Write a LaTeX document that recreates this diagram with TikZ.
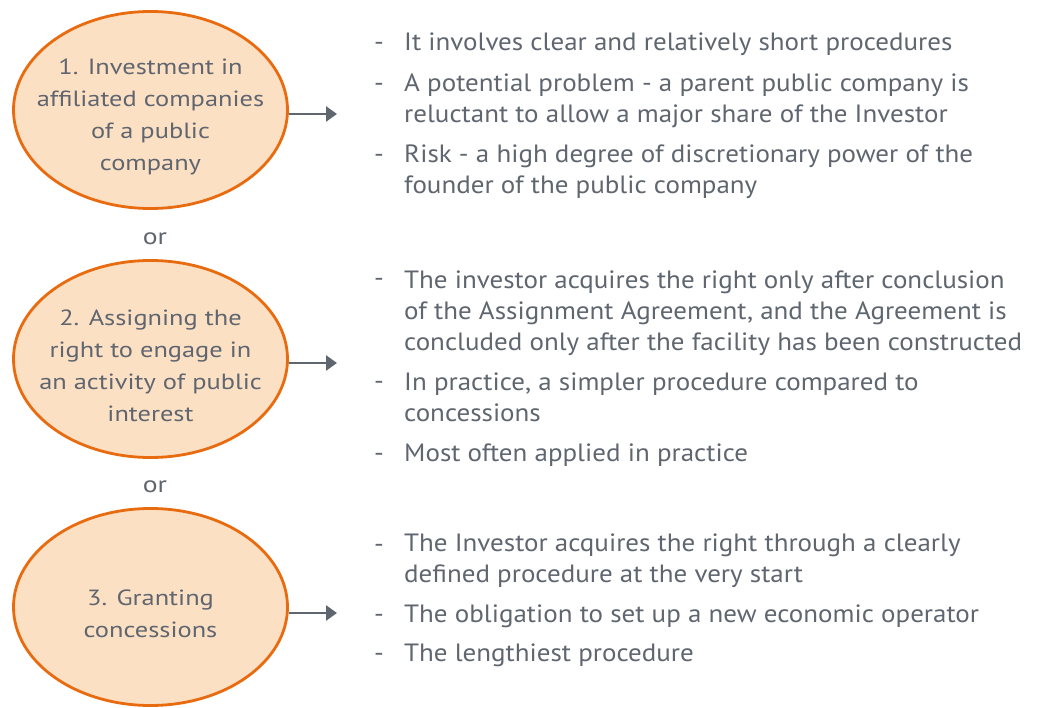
\documentclass[tikz,border=0pt]{standalone}
\usepackage{fontspec}
\setmainfont{PT Sans}
\newfontfamily\bulletfont[FakeStretch=1.08]{PT Sans}
\newfontfamily\ovalfont[FakeStretch=1.2]{PT Sans}
\usetikzlibrary{arrows.meta,shapes.geometric}
\definecolor{ovalfill}{HTML}{FCE0C4}
\definecolor{ovaldraw}{HTML}{E96B10}
\definecolor{txtgray}{HTML}{5F666F}
\newcommand\ovstrut{\rule{0pt}{29pt}}
\tikzset{
  oval/.style={ellipse, draw=ovaldraw, fill=ovalfill, line width=2.8pt,
    minimum width=274pt, minimum height=197pt, inner xsep=-80pt, inner ysep=-60pt, align=center,
    text=txtgray, font=\ovalfont\fontsize{22}{32}\selectfont},
  arr/.style={draw=txtgray, line width=2.4pt, -{Triangle[length=11pt,width=15pt]}},
  dashmark/.style={anchor=base west, inner sep=0pt, text=txtgray, font=\bulletfont\fontsize{25}{31}\selectfont},
  item/.style={anchor=base west, inner sep=0pt, align=left, text=txtgray, font=\bulletfont\fontsize{25}{31}\selectfont},
  ortext/.style={anchor=base, inner sep=0pt, text=txtgray, font=\ovalfont\fontsize{23}{26}\selectfont}
}
\begin{document}
\begin{tikzpicture}[x=1pt,y=-1pt]
\useasboundingbox[fill=white] (0,0) rectangle (1047,708);
% ovals
\node[oval] (e1) at (150.5,110) {\ovstrut 1. Investment in\\affiliated companies\\of a public\\company};
\node[oval] (e2) at (150.5,359) {\ovstrut 2. Assigning the\\right to engage in\\an activity of public\\interest};
\node[oval] (e3) at (150.5,607) {\ovstrut 3. Granting\\concessions};
\node[ortext] (or1) at (155,245) {or};
\node[ortext] (or2) at (155,492) {or};
% arrows
\coordinate (t1) at (337,114);
\coordinate (t2) at (337,363);
\coordinate (t3) at (337,613);
\draw[arr] (e1.east |- t1) -- (t1);
\draw[arr] (e2.east |- t2) -- (t2);
\draw[arr] (e3.east |- t3) -- (t3);
% group 1 (anchors at baseline of last line)
\node[dashmark] (d11) at (374,51) {-};
\node[item] (i11) at (404,51) {It involves clear and relatively short procedures};
\node[dashmark] (d12) at (374,92) {-};
\node[item] (i12) at (404,123) {A potential problem - a parent public company is\\reluctant to allow a major share of the Investor};
\node[dashmark] (d13) at (374,163) {-};
\node[item] (i13) at (404,194) {Risk - a high degree of discretionary power of the\\founder of the public company};
% group 2
\node[dashmark] (d21) at (374,287) {-};
\node[item] (i21) at (404,351) {The investor acquires the right only after conclusion\\of the Assignment Agreement, and the Agreement is\\concluded only after the facility has been constructed};
\node[dashmark] (d22) at (374,390) {-};
\node[item] (i22) at (404,421) {In practice, a simpler procedure compared to\\concessions};
\node[dashmark] (d23) at (374,461) {-};
\node[item] (i23) at (404,461) {Most often applied in practice};
% group 3
\node[dashmark] (d31) at (374,552) {-};
\node[item] (i31) at (404,582) {The Investor acquires the right through a clearly\\defined procedure at the very start};
\node[dashmark] (d32) at (374,622) {-};
\node[item] (i32) at (404,622) {The obligation to set up a new economic operator};
\node[dashmark] (d33) at (374,661) {-};
\node[item] (i33) at (404,661) {The lengthiest procedure};
\end{tikzpicture}
\end{document}
